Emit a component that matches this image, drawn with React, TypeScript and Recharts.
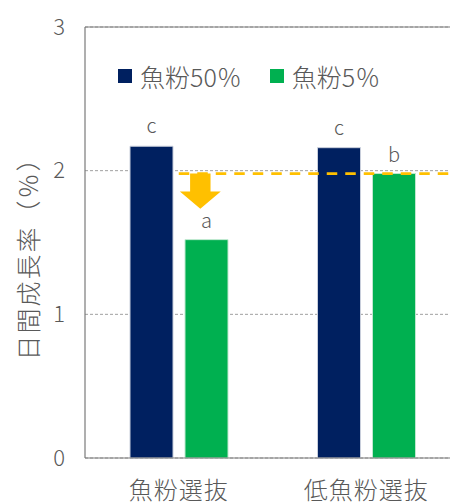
import React from 'react'
import {
  BarChart,
  Bar,
  XAxis,
  YAxis,
  CartesianGrid,
  Legend,
  ReferenceLine,
  ReferenceArea,
  LabelList
} from 'recharts'

// groups on the x axis
const categories = ['魚粉選抜', '低魚粉選抜']
// daily growth rate (%) per diet
const fishmeal50 = [2.17, 2.16]
const fishmeal5 = [1.52, 1.98]
// significance letters above the bars
const letters50 = ['c', 'c']
const letters5 = ['a', 'b']
const seriesNames = ['魚粉50％', '魚粉5％']
const yTicks = [0, 1, 2, 3]
// arrow annotation: from the low-fishmeal level down to here
const arrowTip = 1.735
const arrowSpan = [0.253, 0.362]

const NAVY = '#002060'
const GREEN = '#00B050'
const ORANGE = '#FFC000'
const TEXT = '#595959'
const FONT = "'Noto Sans CJK JP', 'Noto Sans', sans-serif"

const data = categories.map((name, i) => ({
  name,
  fm50: fishmeal50[i],
  fm5: fishmeal5[i],
  l50: letters50[i],
  l5: letters5[i]
}))

const YLabel = ({ viewBox }: any) => {
  const cx = viewBox.x + 27
  const cy = viewBox.y + viewBox.height / 2 + 10
  return (
    <text
      x={cx}
      y={cy}
      transform={`rotate(-90 ${cx} ${cy})`}
      textAnchor="middle"
      dominantBaseline="central"
      fill={TEXT}
      fontSize={25}
      fontWeight={300}
      style={{ letterSpacing: 2 }}
    >
      日間成長率（％）
    </text>
  )
}

const Arrow = ({ x, y, width, height }: any) => {
  const cx = x + width / 2
  const shaft = width * 0.25
  const headY = y + height * 0.51
  const pts = [
    [cx - shaft, y],
    [cx + shaft, y],
    [cx + shaft, headY],
    [x + width, headY],
    [cx, y + height],
    [x, headY],
    [cx - shaft, headY]
  ]
  return <polygon points={pts.map(p => p.join(',')).join(' ')} fill={ORANGE} />
}

const LegendBox = () => (
  <div style={{ display: 'flex', alignItems: 'center', fontSize: 25, fontWeight: 300, color: TEXT, fontFamily: FONT, whiteSpace: 'nowrap' }}>
    {seriesNames.map((s, i) => (
      <span key={s} style={{ display: 'flex', alignItems: 'center', marginRight: 28 }}>
        <span style={{ width: 14, height: 14, background: i === 0 ? NAVY : GREEN, marginRight: 8 }} />
        {s}
      </span>
    ))}
  </div>
)

export default function App() {
  return (
    <div style={{ position: 'absolute', left: 0, top: 0, width: 450, height: 504, overflow: 'hidden', background: '#fff', fontFamily: FONT }}>
      <BarChart
        width={470}
        height={504}
        data={data}
        margin={{ top: 27, right: 10, left: 0, bottom: 0 }}
        barSize={43}
        barGap={12}
      >
        <CartesianGrid vertical={false} stroke="#a0a0a0" strokeDasharray="3 2" />
        <XAxis
          dataKey="name"
          height={46}
          axisLine={{ stroke: '#7a7a7a', strokeWidth: 1.2 }}
          tickLine={false}
          tickMargin={18}
          tick={{ fill: TEXT, fontSize: 24, fontWeight: 300, style: { letterSpacing: 1 } }}
        />
        <XAxis xAxisId="pos" type="number" domain={[0, 1]} allowDataOverflow hide />
        <YAxis
          width={85}
          domain={[0, 3]}
          ticks={yTicks}
          axisLine={{ stroke: '#7a7a7a', strokeWidth: 1.2 }}
          tickLine={false}
          tickMargin={14}
          tick={{ fill: TEXT, fontSize: 22, fontWeight: 300 }}
          label={<YLabel />}
        />
        <Legend
          layout="horizontal"
          verticalAlign="middle"
          align="center"
          content={<LegendBox />}
          wrapperStyle={{ top: 58, left: 118, width: 'auto', height: 36 }}
        />
        <Bar dataKey="fm50" name={seriesNames[0]} fill={NAVY} stroke="#c8cedb" strokeWidth={1} isAnimationActive={false}>
          <LabelList dataKey="l50" position="top" offset={13} fill={TEXT} fontSize={20} fontWeight={300} />
        </Bar>
        <Bar dataKey="fm5" name={seriesNames[1]} fill={GREEN} stroke="#bfe8cf" strokeWidth={1} isAnimationActive={false}>
          <LabelList dataKey="l5" position="top" offset={12} fill={TEXT} fontSize={20} fontWeight={300} />
        </Bar>
        <ReferenceLine y={3} stroke="#7a7a7a" strokeWidth={1.2} />
        <ReferenceLine
          xAxisId="pos"
          segment={[
            { x: 0.25, y: fishmeal5[1] },
            { x: 1, y: fishmeal5[1] }
          ]}
          stroke={ORANGE}
          strokeWidth={2.7}
          strokeDasharray="10.5 8"
        />
        <ReferenceArea
          xAxisId="pos"
          x1={arrowSpan[0]}
          x2={arrowSpan[1]}
          y1={arrowTip}
          y2={fishmeal5[1]}
          shape={<Arrow />}
        />
      </BarChart>
    </div>
  )
}
